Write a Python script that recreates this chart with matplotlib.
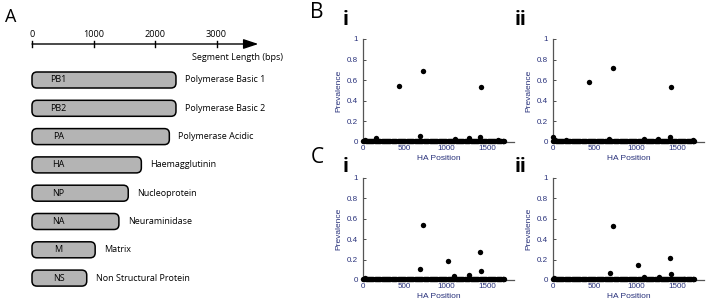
import matplotlib
matplotlib.use('Agg')
import matplotlib.pyplot as plt
from matplotlib.patches import FancyBboxPatch, FancyArrowPatch

# segment lengths (bps)
segments=['PB1','PB2','PA','HA','NP','NA','M','NS']
seg_names=['Polymerase Basic 1','Polymerase Basic 2','Polymerase Acidic','Haemagglutinin',
           'Nucleoprotein','Neuraminidase','Matrix','Non Structural Protein']
seg_len=[2341,2341,2233,1778,1565,1413,1027,890]
len_ticks=[0,1000,2000,3000]

# HA sites with prevalence ~0 (dense baseline)
base_pos=[4,18,31,44,57,72,86,98,110,124,139,153,168,180,193,209,224,236,249,262,276,291,307,
          319,331,347,362,374,386,401,417,429,441,456,472,484,497,512,527,539,551,566,582,594,
          606,621,637,649,661,676,692,704,716,731,747,759,771,786,802,814,826,841,857,869,881,
          896,912,924,936,951,967,979,991,1006,1022,1034,1046,1061,1077,1089,1101,1116,1132,
          1144,1156,1171,1187,1199,1211,1226,1242,1254,1266,1281,1297,1309,1321,1336,1352,1364,
          1376,1391,1407,1419,1431,1446,1462,1474,1486,1501,1517,1529,1541,1556,1572,1584,1596,
          1611,1627,1639,1651,1666,1682,1693,1702]
# HA sites with visible prevalence
bi_x=[434,723,1425,20,160,682,1110,1275,1412,1628]
bi_y=[0.54,0.69,0.53,0.02,0.04,0.058,0.03,0.04,0.046,0.02]
bii_x=[434,723,1425,0,20,160,677,1095,1270,1410,1690]
bii_y=[0.58,0.72,0.53,0.045,0.02,0.015,0.03,0.03,0.03,0.045,0.02]
ci_x=[682,723,1027,1407,1424,20,1100,1280]
ci_y=[0.105,0.54,0.19,0.27,0.085,0.02,0.04,0.05]
cii_x=[682,720,1025,1405,1420,15,1100,1275,1500,1580]
cii_y=[0.066,0.53,0.144,0.22,0.06,0.02,0.033,0.026,0.012,0.012]

W,H=709,304
fig=plt.figure(figsize=(W/100,H/100),dpi=100)
FA=['Open Sans','DejaVu Sans']
FB=['Liberation Sans','DejaVu Sans']
NAVY='#27307a'

# ---- panel A ----
axA=fig.add_axes([0,0,300/W,1]); axA.set_axis_off()
ppb=0.0615; x0=32; r0=80; rp=28.3
axA.set_xlim(-x0/ppb,(300-x0)/ppb)
axA.set_ylim((H-r0)/rp,-r0/rp)
ya=(44-r0)/rp
axA.add_patch(FancyArrowPatch((0,ya),(3680,ya),arrowstyle='-|>,head_length=0.9,head_width=0.3',
                              mutation_scale=10,lw=1.0,color='black',shrinkA=0,shrinkB=0))
for t in len_ticks:
    axA.plot([t,t],[ya-3/rp,ya+3/rp],color='black',lw=1.0)
    axA.text(t,ya-5/rp,str(t),ha='center',va='bottom',fontsize=6.6,family=FA)
axA.text(2600,(57-r0)/rp,'Segment Length (bps)',ha='left',va='center',fontsize=6.5,family=FA)
bh=16/rp; rad=5/ppb; asp=(1/rp)/(1/ppb)
for i,(s,n,L) in enumerate(zip(segments,seg_names,seg_len)):
    axA.add_patch(FancyBboxPatch((0,i-bh/2),L,bh,boxstyle=f'round,pad=0,rounding_size={rad}',
                                 mutation_aspect=asp,fc='#b4b4b4',ec='black',lw=1.1))
    axA.text(430,i,s,ha='center',va='center',fontsize=6.5,family=FA)
    axA.annotate(n,(L,i),xytext=(6.5,0),textcoords='offset points',ha='left',va='center',
                 fontsize=6.5,family=FA)

# ---- panels B, C ----
def prev_ax(rect,xs,ys):
    ax=fig.add_axes(rect)
    ax.scatter(base_pos,[0.005]*len(base_pos),s=15,c='black',lw=0,clip_on=False,zorder=3)
    ax.scatter(xs,ys,s=15,c='black',lw=0,clip_on=False,zorder=3)
    ax.set_xlim(0,1820); ax.set_ylim(0,1)
    ax.set_xticks([0,500,1000,1500]); ax.set_yticks([0,0.2,0.4,0.6,0.8,1])
    ax.set_yticklabels(['0','0.2','0.4','0.6','0.8','1'])
    for sp in ['top','right']: ax.spines[sp].set_visible(False)
    for sp in ['left','bottom']: ax.spines[sp].set_color('#555555'); ax.spines[sp].set_linewidth(0.9)
    ax.tick_params(direction='in',length=2,width=0.6,labelsize=5.8,labelcolor=NAVY,color='#333333')
    ax.tick_params(axis='x',pad=2); ax.tick_params(axis='y',pad=3.5)
    for lab in ax.get_xticklabels()+ax.get_yticklabels(): lab.set_family(FB)
    ax.set_xlabel('HA Position',fontsize=6,color=NAVY,labelpad=2.5,family=FB)
    ax.set_ylabel('Prevalence',fontsize=6,color=NAVY,labelpad=3,family=FB)
    return ax

aw=151/W; ah=103/H
prev_ax([363/W,1-142/H,aw,ah],bi_x,bi_y)
prev_ax([553/W,1-142/H,aw,ah],bii_x,bii_y)
prev_ax([363/W,1-280/H,aw,102/H],ci_x,ci_y)
prev_ax([553/W,1-280/H,aw,102/H],cii_x,cii_y)

fig.text(10.5/W,1-22/H,'A',ha='center',va='baseline',fontsize=13,family=FA)
fig.text(317/W,1-18/H,'B',ha='center',va='baseline',fontsize=15,family=FA)
fig.text(317/W,1-163/H,'C',ha='center',va='baseline',fontsize=15,family=FA)
for x,y,s in [(345.5,25,'i'),(521,25,'ii'),(345.5,172,'i'),(521,172,'ii')]:
    fig.text(x/W,1-y/H,s,ha='center',va='baseline',fontsize=14,fontweight='bold',family=FA)

fig.savefig('out.png',dpi=100)
